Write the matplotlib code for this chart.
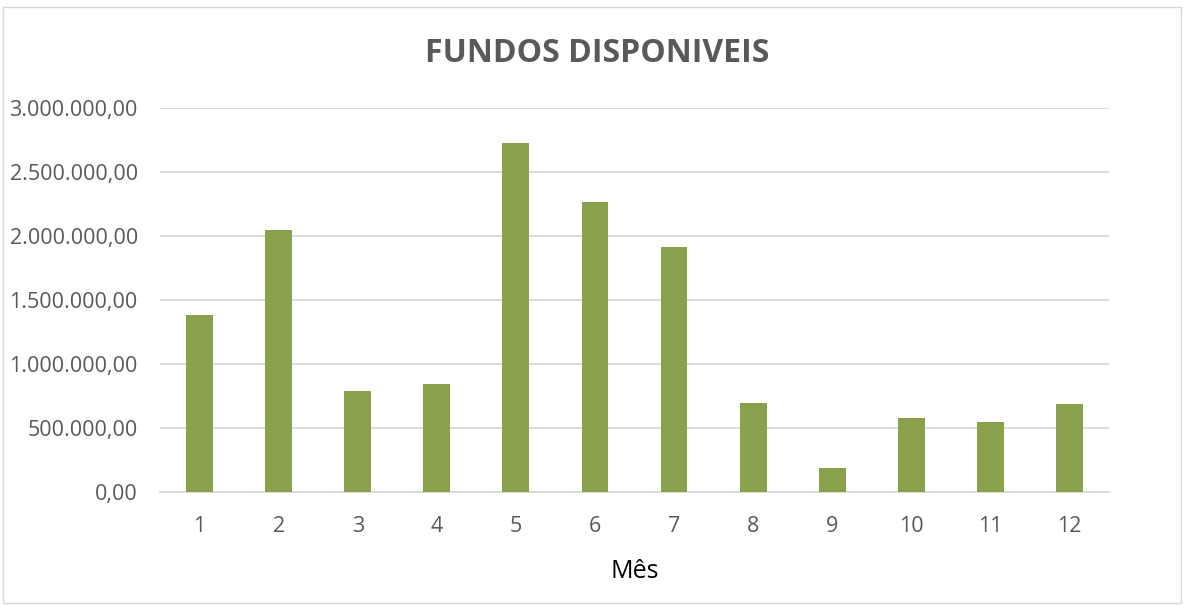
import matplotlib
matplotlib.use("Agg")
import matplotlib.pyplot as plt
from matplotlib.patches import Rectangle
from matplotlib.ticker import FuncFormatter, MultipleLocator

# --- data ---
meses = [1, 2, 3, 4, 5, 6, 7, 8, 9, 10, 11, 12]
fundos = [1383000, 2049000, 790000, 845000, 2726000, 2268000,
          1916000, 695000, 187500, 578000, 552000, 688000]

titulo = "FUNDOS DISPONIVEIS"
rotulo_x = "Mês"

plt.rcParams['font.family'] = ['Open Sans', 'DejaVu Sans']

def fmt_br(v, pos):
    s = f"{v:,.2f}"
    return s.replace(",", "X").replace(".", ",").replace("X", ".")

fig = plt.figure(figsize=(11.87, 6.05), dpi=100)
ax = fig.add_axes([160/1187, 1 - 492.3/605, (1109 - 160)/1187, (492.3 - 108.3)/605])

x = list(range(len(meses)))
ax.bar(x, fundos, width=0.34, color='#8AA14B', zorder=3)

ax.set_xlim(-0.5, len(meses) - 0.5)
ax.set_ylim(0, 3000000)
ax.yaxis.set_major_locator(MultipleLocator(500000))
ax.yaxis.set_major_formatter(FuncFormatter(fmt_br))
ax.set_xticks(x)
ax.set_xticklabels([str(m) for m in meses])

ax.grid(axis='y', color='#D9D9D9', linewidth=1.3, zorder=0)
for side in ['top', 'right', 'left']:
    ax.spines[side].set_visible(False)
ax.spines['bottom'].set_color('#D9D9D9')
ax.spines['bottom'].set_linewidth(1.3)

ax.tick_params(axis='both', length=0, labelsize=15.5, labelcolor='#595959')
ax.tick_params(axis='y', pad=16)
ax.tick_params(axis='x', pad=17)

ax.set_xlabel(rotulo_x, fontsize=18, color='black', labelpad=16)
fig.text(597/1187, 1 - 54/605, titulo, ha='center', va='center',
         fontsize=23, fontweight='bold', color='#595959')

# chart border
fig.patches.append(Rectangle((3/1187, 2/605), 1178/1187, 596/605,
                             transform=fig.transFigure, fill=False,
                             edgecolor='#D9D9D9', linewidth=1))

fig.savefig("out.png", dpi=100)
